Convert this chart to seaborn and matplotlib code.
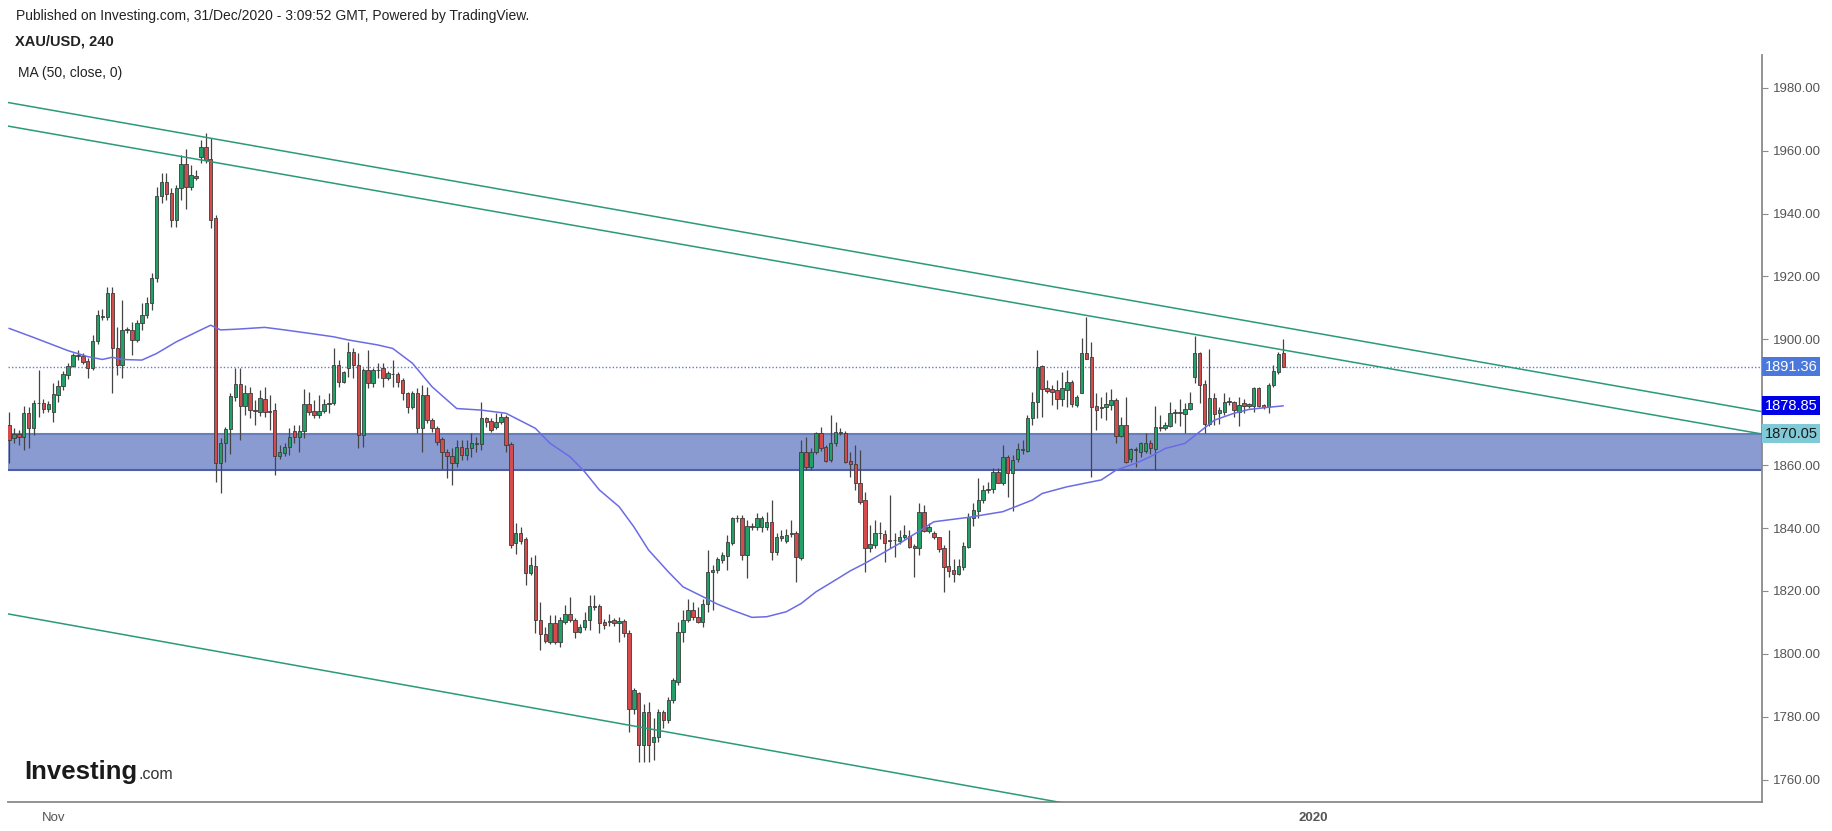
import numpy as np
import pandas as pd
import matplotlib
matplotlib.use("Agg")
import matplotlib.pyplot as plt
import seaborn as sns

# XAU/USD 4h candles (260 candles)
opens = [1872.7, 1868.5, 1869.8, 1869.0, 1876.5, 1871.7, 1879.6, 1879.8, 1878.0, 1877.0,
         1882.3, 1885.1, 1888.6, 1891.6, 1895.0, 1894.8, 1893.2, 1890.8, 1899.6, 1907.0,
         1907.2, 1914.6, 1897.1, 1891.8, 1903.0, 1903.0, 1899.8, 1905.1, 1907.7, 1911.4,
         1919.4, 1945.6, 1950.1, 1946.4, 1937.9, 1948.0, 1955.7, 1948.5, 1951.9, 1958.1,
         1961.2, 1957.2, 1938.5, 1860.8, 1866.9, 1871.4, 1881.8, 1885.8, 1878.8, 1882.8,
         1877.5, 1876.8, 1880.9, 1877.0, 1877.5, 1862.9, 1864.0, 1865.9, 1870.9, 1868.8,
         1870.9, 1879.4, 1877.3, 1875.9, 1877.3, 1879.4, 1879.6, 1891.8, 1886.5, 1890.8,
         1896.1, 1891.8, 1869.6, 1890.4, 1886.2, 1890.4, 1890.8, 1887.6, 1889.0, 1889.0,
         1887.1, 1882.8, 1878.6, 1882.8, 1871.7, 1882.3, 1874.5, 1871.7, 1868.2, 1864.3,
         1862.9, 1860.6, 1865.9, 1863.2, 1865.3, 1866.7, 1866.7, 1874.9, 1874.1, 1872.2,
         1873.8, 1875.4, 1866.7, 1835.1, 1838.3, 1836.4, 1825.8, 1828.0, 1810.7, 1806.2,
         1803.9, 1809.7, 1803.9, 1810.2, 1812.8, 1810.9, 1807.0, 1808.4, 1810.9, 1815.2,
         1815.2, 1810.2, 1810.2, 1810.7, 1809.7, 1810.5, 1806.7, 1782.6, 1787.4, 1771.0,
         1781.6, 1772.1, 1773.6, 1781.6, 1778.9, 1785.3, 1791.2, 1807.0, 1810.7, 1814.1,
         1811.8, 1810.2, 1816.0, 1826.1, 1826.6, 1829.8, 1831.1, 1835.3, 1843.1, 1843.1,
         1831.4, 1840.6, 1840.2, 1840.2, 1840.2, 1842.0, 1832.5, 1836.7, 1836.0, 1838.2,
         1838.3, 1830.4, 1864.3, 1859.5, 1864.3, 1870.1, 1865.9, 1861.6, 1866.9, 1870.3,
         1870.3, 1861.4, 1860.3, 1854.2, 1848.9, 1833.5, 1834.6, 1838.3, 1838.1, 1836.0,
         1836.2, 1836.0, 1837.0, 1837.4, 1834.3, 1833.5, 1845.2, 1839.1, 1838.3, 1837.0,
         1833.5, 1827.9, 1826.8, 1825.4, 1827.7, 1834.1, 1843.1, 1845.5, 1848.9, 1852.1,
         1852.3, 1857.9, 1854.4, 1862.5, 1857.4, 1861.8, 1864.8, 1864.6, 1874.9, 1880.2,
         1891.5, 1884.4, 1884.1, 1883.9, 1880.9, 1883.9, 1886.5, 1879.1, 1883.0, 1895.5,
         1894.3, 1878.8, 1878.3, 1878.4, 1879.1, 1880.7, 1869.3, 1872.7, 1861.8, 1864.8,
         1864.3, 1864.6, 1866.9, 1865.0, 1872.2, 1871.7, 1872.4, 1876.6, 1876.7, 1876.2,
         1877.7, 1887.9, 1895.7, 1885.8, 1873.1, 1881.2, 1876.7, 1877.0, 1880.2, 1880.2,
         1877.0, 1879.6, 1878.8, 1878.8, 1884.4, 1879.1, 1878.4, 1885.5, 1889.7, 1895.7]

highs = [1877.0, 1871.7, 1871.2, 1878.8, 1878.6, 1880.7, 1890.2, 1881.0, 1880.5, 1886.0,
         1887.1, 1890.0, 1892.5, 1895.7, 1896.5, 1895.5, 1894.0, 1901.4, 1909.3, 1909.8,
         1916.7, 1916.7, 1904.0, 1912.5, 1904.0, 1905.6, 1906.1, 1911.4, 1913.5, 1921.0,
         1948.5, 1953.0, 1953.0, 1948.0, 1949.0, 1958.6, 1960.4, 1955.4, 1953.8, 1963.4,
         1965.5, 1963.9, 1939.5, 1868.5, 1872.2, 1882.8, 1890.8, 1890.8, 1885.5, 1884.9,
         1880.7, 1883.9, 1884.9, 1882.3, 1879.6, 1866.4, 1867.0, 1871.7, 1872.7, 1872.7,
         1884.1, 1883.3, 1880.7, 1882.3, 1880.9, 1882.8, 1897.1, 1893.4, 1890.0, 1899.2,
         1897.1, 1895.5, 1891.0, 1896.6, 1891.0, 1892.4, 1892.4, 1890.0, 1893.4, 1889.7,
         1887.6, 1883.3, 1883.5, 1884.4, 1885.5, 1884.9, 1875.0, 1872.5, 1869.0, 1865.0,
         1865.3, 1868.0, 1868.0, 1868.0, 1870.1, 1869.0, 1880.2, 1875.4, 1875.0, 1876.5,
         1876.5, 1875.9, 1867.4, 1841.5, 1840.4, 1837.0, 1830.9, 1831.4, 1816.6, 1808.6,
         1812.3, 1812.3, 1811.8, 1815.5, 1818.2, 1811.5, 1809.5, 1813.4, 1818.7, 1818.7,
         1816.0, 1811.0, 1812.8, 1811.5, 1811.8, 1811.0, 1807.5, 1789.0, 1788.0, 1784.2,
         1784.8, 1779.5, 1782.5, 1782.1, 1786.4, 1792.2, 1810.2, 1813.9, 1817.6, 1816.6,
         1815.0, 1817.6, 1833.0, 1828.2, 1830.9, 1832.5, 1837.8, 1843.6, 1844.1, 1844.0,
         1842.5, 1841.5, 1844.7, 1843.8, 1845.2, 1848.9, 1838.3, 1839.3, 1839.6, 1842.5,
         1839.0, 1868.0, 1869.0, 1865.3, 1870.6, 1872.2, 1866.5, 1875.9, 1873.8, 1871.7,
         1871.0, 1864.3, 1866.4, 1864.8, 1851.5, 1840.9, 1842.5, 1842.0, 1839.4, 1850.5,
         1838.3, 1839.4, 1840.9, 1839.4, 1835.0, 1848.0, 1847.3, 1841.5, 1839.0, 1837.3,
         1834.6, 1839.4, 1830.3, 1830.3, 1835.6, 1844.7, 1848.0, 1855.8, 1853.7, 1854.7,
         1859.0, 1859.0, 1866.4, 1863.2, 1863.2, 1866.9, 1868.0, 1875.9, 1883.3, 1896.6,
         1891.8, 1887.0, 1885.5, 1887.0, 1889.7, 1890.2, 1887.1, 1882.3, 1900.3, 1907.2,
         1899.2, 1883.0, 1881.8, 1883.3, 1884.1, 1881.2, 1875.4, 1881.8, 1865.3, 1865.9,
         1867.4, 1870.3, 1868.0, 1878.8, 1875.9, 1873.8, 1880.2, 1878.0, 1880.9, 1879.6,
         1883.3, 1901.0, 1896.1, 1887.1, 1896.8, 1882.8, 1878.4, 1883.0, 1881.8, 1880.5,
         1881.8, 1880.9, 1879.6, 1884.9, 1884.9, 1879.4, 1886.0, 1891.8, 1896.1, 1900.0]

lows = [1860.6, 1866.9, 1866.4, 1864.8, 1865.5, 1869.6, 1875.4, 1876.5, 1877.0, 1873.8,
        1880.2, 1884.0, 1887.5, 1891.3, 1893.5, 1892.0, 1887.6, 1890.2, 1898.5, 1906.1,
        1906.0, 1882.8, 1888.6, 1887.6, 1902.0, 1895.0, 1899.0, 1903.0, 1906.7, 1909.3,
        1918.3, 1943.2, 1944.3, 1935.8, 1935.8, 1944.3, 1941.3, 1947.5, 1950.5, 1956.0,
        1956.0, 1935.3, 1854.7, 1851.0, 1861.1, 1863.7, 1880.5, 1868.0, 1875.9, 1874.9,
        1872.7, 1875.5, 1875.4, 1871.2, 1856.8, 1862.1, 1863.0, 1863.2, 1866.9, 1864.3,
        1868.5, 1876.0, 1874.9, 1874.9, 1876.5, 1876.5, 1879.1, 1884.9, 1886.0, 1888.1,
        1887.6, 1865.3, 1865.9, 1884.4, 1885.0, 1887.6, 1884.9, 1887.0, 1884.9, 1884.9,
        1880.7, 1876.5, 1878.0, 1870.1, 1864.3, 1873.5, 1870.5, 1866.5, 1858.9, 1855.8,
        1853.7, 1859.5, 1861.6, 1861.6, 1862.7, 1864.3, 1864.8, 1872.2, 1870.5, 1871.5,
        1873.0, 1864.3, 1833.5, 1831.9, 1835.0, 1821.9, 1825.0, 1806.5, 1801.2, 1803.3,
        1803.0, 1803.0, 1802.3, 1809.5, 1810.0, 1804.9, 1806.5, 1807.5, 1807.5, 1814.0,
        1806.5, 1808.0, 1809.0, 1809.0, 1803.9, 1805.5, 1775.2, 1781.0, 1765.7, 1765.7,
        1765.7, 1766.2, 1772.0, 1776.3, 1778.0, 1784.5, 1790.1, 1803.8, 1810.0, 1810.7,
        1809.7, 1808.6, 1813.4, 1813.9, 1825.6, 1829.0, 1826.6, 1834.5, 1842.0, 1829.8,
        1824.0, 1839.5, 1839.5, 1838.8, 1839.5, 1829.8, 1831.4, 1836.0, 1835.3, 1837.2,
        1822.9, 1829.8, 1858.5, 1858.4, 1863.5, 1864.5, 1861.1, 1861.1, 1866.0, 1869.5,
        1860.6, 1856.3, 1852.1, 1847.5, 1826.1, 1832.5, 1833.5, 1836.5, 1829.3, 1833.5,
        1830.9, 1835.0, 1836.5, 1833.5, 1824.5, 1831.4, 1838.8, 1838.5, 1836.5, 1832.5,
        1819.7, 1824.5, 1822.9, 1825.0, 1826.6, 1833.5, 1840.6, 1843.1, 1848.0, 1851.0,
        1851.0, 1854.2, 1853.7, 1850.0, 1845.5, 1861.0, 1863.7, 1864.3, 1872.7, 1874.9,
        1875.4, 1882.8, 1879.1, 1878.0, 1878.8, 1878.6, 1878.6, 1878.5, 1882.8, 1893.6,
        1856.3, 1871.2, 1874.9, 1874.3, 1877.5, 1867.1, 1868.8, 1860.6, 1861.0, 1859.5,
        1862.7, 1864.0, 1863.7, 1858.4, 1870.9, 1871.2, 1872.0, 1873.3, 1872.4, 1870.3,
        1877.5, 1886.2, 1879.6, 1870.1, 1872.4, 1872.7, 1873.1, 1875.9, 1879.0, 1875.2,
        1872.4, 1876.5, 1878.3, 1877.0, 1878.6, 1877.7, 1876.7, 1884.9, 1889.0, 1891.3]

closes = [1868.0, 1869.8, 1869.0, 1876.5, 1871.7, 1879.6, 1879.8, 1878.0, 1879.4, 1882.6,
          1885.1, 1889.0, 1891.6, 1895.0, 1894.8, 1892.9, 1890.8, 1899.6, 1907.7, 1907.4,
          1914.8, 1897.1, 1891.8, 1903.0, 1903.2, 1899.8, 1905.1, 1907.7, 1911.4, 1919.4,
          1945.6, 1950.1, 1946.2, 1937.9, 1948.0, 1955.7, 1948.5, 1952.2, 1951.2, 1961.2,
          1957.0, 1937.9, 1860.8, 1866.9, 1871.4, 1882.0, 1885.8, 1878.8, 1882.8, 1877.5,
          1877.2, 1881.2, 1876.8, 1876.9, 1862.9, 1864.3, 1865.9, 1868.8, 1869.0, 1870.9,
          1879.4, 1877.0, 1875.9, 1877.3, 1879.4, 1879.6, 1891.8, 1886.5, 1889.7, 1896.1,
          1891.8, 1869.6, 1890.4, 1886.2, 1890.4, 1890.2, 1887.6, 1889.2, 1888.9, 1886.5,
          1882.8, 1878.6, 1882.8, 1871.7, 1882.3, 1874.3, 1871.7, 1867.4, 1864.3, 1862.9,
          1860.6, 1865.9, 1863.2, 1865.3, 1866.9, 1866.9, 1874.9, 1873.8, 1871.2, 1873.8,
          1875.4, 1866.4, 1834.6, 1838.3, 1836.0, 1825.8, 1828.2, 1810.7, 1806.2, 1804.2,
          1809.7, 1803.9, 1810.7, 1812.8, 1810.7, 1807.0, 1808.6, 1810.9, 1815.2, 1815.0,
          1809.9, 1809.1, 1810.4, 1809.9, 1810.5, 1806.5, 1782.6, 1788.5, 1771.0, 1781.6,
          1771.0, 1773.6, 1781.6, 1778.9, 1785.3, 1791.7, 1807.0, 1810.9, 1814.1, 1811.6,
          1810.2, 1816.0, 1826.1, 1826.6, 1830.3, 1831.4, 1835.6, 1843.1, 1843.3, 1831.4,
          1840.6, 1840.4, 1843.1, 1843.1, 1842.0, 1832.5, 1837.0, 1837.4, 1837.8, 1838.3,
          1830.7, 1864.3, 1859.5, 1864.3, 1870.1, 1865.3, 1861.4, 1866.9, 1870.6, 1870.4,
          1861.1, 1860.3, 1854.2, 1848.4, 1833.5, 1834.9, 1838.5, 1838.5, 1835.3, 1835.9,
          1836.1, 1837.2, 1837.8, 1834.1, 1833.5, 1845.2, 1839.1, 1840.2, 1837.0, 1833.2,
          1827.7, 1826.4, 1825.4, 1827.9, 1834.3, 1843.6, 1845.7, 1848.9, 1852.1, 1852.3,
          1857.9, 1854.4, 1862.5, 1857.4, 1861.6, 1865.0, 1865.0, 1874.9, 1880.2, 1891.3,
          1884.1, 1883.7, 1883.3, 1880.9, 1884.4, 1886.5, 1879.4, 1881.8, 1895.5, 1893.9,
          1878.4, 1877.5, 1878.4, 1879.4, 1880.7, 1869.3, 1872.7, 1861.1, 1865.0, 1864.9,
          1866.9, 1867.1, 1865.3, 1872.2, 1871.7, 1872.7, 1876.5, 1876.7, 1876.6, 1877.7,
          1879.6, 1895.7, 1885.5, 1873.1, 1881.2, 1876.2, 1877.5, 1880.2, 1880.4, 1877.5,
          1879.1, 1878.8, 1879.4, 1884.4, 1878.8, 1878.4, 1885.5, 1890.0, 1895.3, 1891.36]

# MA(50, close) as drawn on the chart, read at candle positions
ma_idx = [0, 5, 12, 16, 19, 21, 23, 27, 30, 34, 39, 41, 43, 46, 52, 56, 62, 66, 69, 75,
          78, 82, 86, 91, 96, 101, 103, 107, 110, 114, 117, 120, 124, 127, 130, 134, 137,
          141, 144, 147, 151, 154, 158, 161, 164, 168, 171, 174, 181, 188, 195, 202, 208,
          210, 215, 222, 225, 229, 232, 235, 239, 242, 245, 249, 252, 256, 259]
ma_val = [1903.5, 1900.6, 1896.4, 1894.5, 1893.6, 1894.3, 1893.6, 1893.4, 1895.5, 1899.2,
          1903.0, 1904.5, 1903.0, 1903.2, 1903.8, 1903.0, 1901.7, 1900.8, 1899.8, 1898.2,
          1897.1, 1892.4, 1884.9, 1878.0, 1877.5, 1876.5, 1874.9, 1871.7, 1866.9, 1862.7,
          1857.9, 1852.1, 1846.8, 1840.4, 1833.0, 1826.1, 1821.3, 1818.2, 1815.8, 1813.9,
          1811.6, 1811.8, 1813.4, 1816.0, 1819.7, 1823.5, 1826.4, 1828.8, 1835.1, 1842.0,
          1843.4, 1845.2, 1848.9, 1851.0, 1853.1, 1855.3, 1858.4, 1860.6, 1862.7, 1865.3,
          1866.9, 1870.6, 1874.3, 1876.5, 1877.7, 1878.4, 1878.85]

# drawn trend lines (start / end in candle index and price)
upper1_x = [-0.2, 356.3]
upper1_y = [1975.3, 1877.0]
upper2_x = [-0.2, 356.3]
upper2_y = [1967.8, 1869.9]
lower_x = [-0.2, 230]
lower_y = [1812.7, 1748.2]

zone_low, zone_high = 1858.5, 1870.05
last_price = 1891.36
ma_last = 1878.85

# 1880 is hidden on the chart behind the price tags
yticks = [1760, 1780, 1800, 1820, 1840, 1860, 1900, 1920, 1940, 1960, 1980]
xtick_pos = [9.15, 29.2, 53.3, 77.1, 99.3, 136.1, 158.1, 178.2, 202.3, 226.2, 265.1, 285.1, 308.9, 331.0, 351.2]
xtick_lab = ["Nov", "", "", "", "", "", "", "", "", "", "2020", "", "", "", ""]

df = pd.DataFrame({"open": opens, "high": highs, "low": lows, "close": closes})
df["idx"] = np.arange(len(df))
df["up"] = df["close"] >= df["open"]

sns.set_style("white")
plt.rcParams['font.family'] = ['Liberation Sans', 'DejaVu Sans']

fig = plt.figure(figsize=(18.33, 8.31), dpi=100)
ax = fig.add_axes([8/1833, 29/831, (1762-8)/1833, (802-55)/831])

green = '#23a068'
red = '#d54a4a'
edge = '#3c3c3c'

# support zone
ax.axhspan(zone_low, zone_high, facecolor='#8a9bd2', edgecolor='none', zorder=1)
ax.axhline(zone_high, color='#6680bd', lw=1.5, zorder=1.5)
ax.axhline(zone_low, color='#4f5fa5', lw=1.5, zorder=1.5)

# last price dotted line
ax.axhline(last_price, color='#5a7fd6', lw=1, ls=(0, (1, 1.5)), zorder=2)

# wicks and bodies
ax.vlines(df["idx"], df["low"], df["high"], color='#444444', lw=0.9, zorder=3)
body_bottom = np.minimum(df["open"], df["close"])
body_h = np.maximum(np.abs(df["close"] - df["open"]), 0.2)
ax.bar(df["idx"], body_h, bottom=body_bottom, width=0.7,
       color=np.where(df["up"], green, red), edgecolor=edge, linewidth=0.6, zorder=4)

# moving average and trend lines
sns.lineplot(x=ma_idx, y=ma_val, ax=ax, color='#6b6be6', lw=1.1, zorder=5)
for xs, ys in [(upper1_x, upper1_y), (upper2_x, upper2_y), (lower_x, lower_y)]:
    sns.lineplot(x=xs, y=ys, ax=ax, color='#2a9a7a', lw=1.1, zorder=5)

ax.set_xlim(-0.2, 356.3)
ax.set_ylim(1752.9, 1990.4)

# axes styling
for s in ['left', 'top']:
    ax.spines[s].set_visible(False)
for s in ['right', 'bottom']:
    ax.spines[s].set_color('#8a8a8a')
    ax.spines[s].set_linewidth(1.3)
ax.yaxis.tick_right()
ax.set_yticks(yticks)
ax.set_yticklabels([f"{v:.2f}" for v in yticks])
ax.set_xticks(xtick_pos)
ax.set_xticklabels(xtick_lab)
ax.tick_params(axis='y', colors='#8a8a8a', labelcolor='#555555', labelsize=9.5, length=4, pad=4)
ax.tick_params(axis='x', colors='#8a8a8a', labelcolor='#555555', labelsize=9.5, length=4, pad=3)
for t in ax.get_xticklabels():
    if t.get_text() == "2020":
        t.set_fontweight('bold')
ax.set_xlabel("")
ax.set_ylabel("")

# price tags on the right axis
tags = [(last_price, '#4a78dc', 'white'), (ma_last, '#0000e6', 'white'), (zone_high, '#7fcad6', '#1a1a1a')]
for val, bg, fg in tags:
    ax.text(1.0015, val, f"{val:.2f}", transform=ax.get_yaxis_transform(), ha='left', va='center',
            fontsize=10.5, color=fg, zorder=10, clip_on=False,
            bbox=dict(boxstyle='square,pad=0.18', facecolor=bg, edgecolor='none'))

# header texts
fig.text(16/1833, 1 - 16/831, "Published on Investing.com, 31/Dec/2020 - 3:09:52 GMT, Powered by TradingView.",
         fontsize=10, color='#222222', va='center', ha='left')
fig.text(15/1833, 1 - 41/831, "XAU/USD, 240", fontsize=10.5, fontweight='bold', color='#222222', va='center', ha='left')
fig.text(18/1833, 1 - 73/831, "MA (50, close, 0)", fontsize=10, color='#222222', va='center', ha='left')

# watermark logo
logo = fig.text(24/1833, 1 - 779/831, "Investing", fontsize=18.5, fontweight='bold', color='#1a1a1a',
                va='baseline', ha='left')
fig.canvas.draw()
ext = logo.get_window_extent()
fig.text((ext.x1 + 1) / 1833, 1 - 779/831, ".com", fontsize=11.5, color='#333333', va='baseline', ha='left')

fig.savefig("out.png", dpi=100)
